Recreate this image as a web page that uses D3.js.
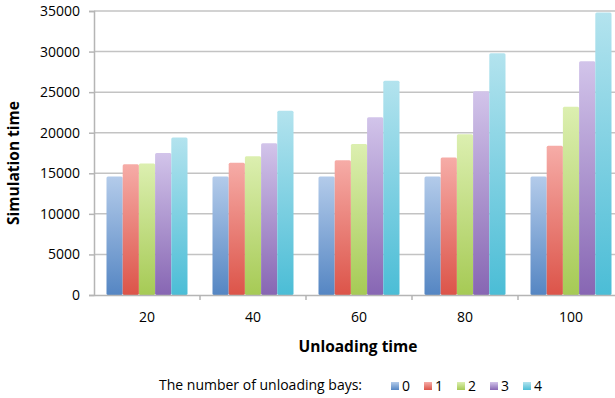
<!DOCTYPE html>
<html><head><meta charset="utf-8">
<script src="https://cdn.jsdelivr.net/npm/d3@7"></script>
<style>
html,body{margin:0;padding:0;background:#fff;}
text{font-family:"Open Sans",Calibri,Arial,sans-serif;fill:#000;}
</style></head>
<body><svg id="c" width="615" height="398"></svg>
<script>
const categories = ["20","40","60","80","100"];
const seriesNames = ["0","1","2","3","4"];
const bays0 = [14600,14600,14600,14600,14600];
const bays1 = [16100,16300,16600,16950,18400];
const bays2 = [16200,17100,18600,19800,23200];
const bays3 = [17500,18700,21900,25100,28800];
const bays4 = [19400,22700,26400,29800,34800];
const seriesValues = [bays0,bays1,bays2,bays3,bays4];
const yTicks = [0,5000,10000,15000,20000,25000,30000,35000];
const topColors = ["#b3cbea","#f6aca7","#dcefb0","#d2c4ea","#b3e3ee"];
const botColors = ["#5586c3","#dc5449","#a6ca55","#8766b3","#4bbdd6"];

const svg = d3.select("#c");
const mLeft = 94, mRight = 624, mTop = 11, mBottom = 295;
const x0 = d3.scaleBand().domain(categories).range([mLeft, mRight]);
const x1 = d3.scaleBand().domain(seriesNames).range([12.5, x0.bandwidth()-12.5]);
const y = d3.scaleLinear().domain([0,35000]).range([mBottom, mTop]);

const defs = svg.append("defs");
seriesNames.forEach((s,i)=>{
  const g = defs.append("linearGradient").attr("id","g"+i).attr("x1",0).attr("y1",0).attr("x2",0).attr("y2",1);
  g.append("stop").attr("offset","0%").attr("stop-color",topColors[i]);
  g.append("stop").attr("offset","100%").attr("stop-color",botColors[i]);
});

// gridlines
svg.append("g").selectAll("line").data(yTicks.filter(d=>d>0)).join("line")
  .attr("x1",mLeft).attr("x2",615).attr("y1",d=>y(d)).attr("y2",d=>y(d))
  .attr("stroke","#c3c3c3").attr("stroke-width",1.5);

// y axis
const ya = svg.append("g").attr("transform",`translate(${mLeft},0)`)
  .call(d3.axisLeft(y).tickValues(yTicks).tickSize(5).tickPadding(9).tickFormat(d3.format("d")));
ya.select(".domain").attr("stroke","#b5b5b5").attr("stroke-width",1.5);
ya.selectAll(".tick line").attr("stroke","#b5b5b5").attr("stroke-width",1.5);
ya.selectAll("text").attr("font-size","14px").attr("font-family","'Open Sans',sans-serif").attr("fill","#000");

// bars
const groups = svg.append("g").selectAll("g").data(categories).join("g")
  .attr("transform",d=>`translate(${x0(d)},0)`);
groups.selectAll("rect").data((d,ci)=>seriesNames.map((s,si)=>({s,si,v:seriesValues[si][ci]}))).join("rect")
  .attr("x",d=>x1(d.s)).attr("width",x1.bandwidth())
  .attr("y",d=>y(d.v)).attr("height",d=>mBottom-y(d.v))
  .attr("rx",1.5)
  .attr("fill",d=>`url(#g${d.si})`);

// x axis
const xa = svg.append("g").attr("transform",`translate(0,${mBottom})`)
  .call(d3.axisBottom(x0).tickSize(0).tickPadding(17));
xa.select(".domain").attr("stroke","#b5b5b5").attr("stroke-width",1.5);
xa.selectAll("text").attr("font-size","14px").attr("font-family","'Open Sans',sans-serif").attr("fill","#000");
// category boundary ticks
svg.append("g").selectAll("line").data(categories.slice(1)).join("line")
  .attr("x1",d=>x0(d)).attr("x2",d=>x0(d)).attr("y1",mBottom).attr("y2",mBottom+5)
  .attr("stroke","#b5b5b5").attr("stroke-width",1.5);

// axis titles
svg.append("text").attr("x",358).attr("y",352).attr("text-anchor","middle")
  .attr("font-size","15.5px").attr("font-weight","bold").text("Unloading time");
svg.append("text").attr("transform","translate(19,163) rotate(-90)").attr("text-anchor","middle")
  .attr("font-size","15.5px").attr("font-weight","bold").text("Simulation time");

// legend
svg.append("text").attr("x",159).attr("y",390).attr("font-size","14px").text("The number of unloading bays:");
const lg = svg.append("g").selectAll("g").data(seriesNames).join("g")
  .attr("transform",(d,i)=>`translate(${391+i*33},382)`);
lg.append("rect").attr("width",8).attr("height",8).attr("fill",(d,i)=>`url(#g${i})`);
lg.append("text").attr("x",11).attr("y",8.5).attr("font-size","14px").text(d=>d);
</script></body></html>
